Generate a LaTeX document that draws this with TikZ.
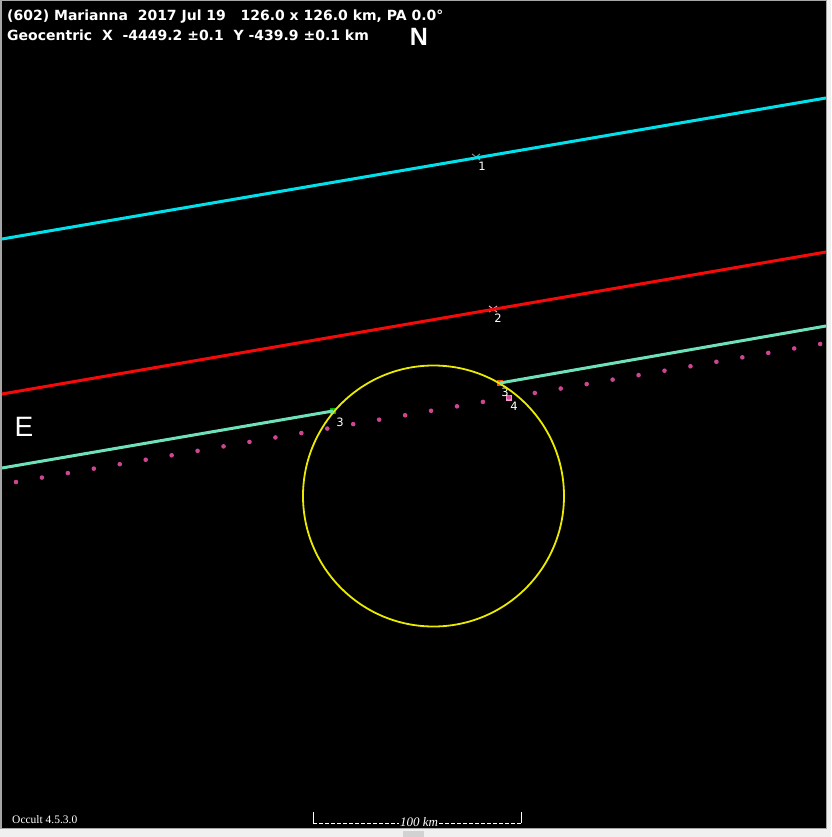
\documentclass[tikz,border=0pt]{standalone}
\usepackage{fontspec}
\setmainfont{Liberation Sans}
\newfontfamily\versionfont{Liberation Serif}
\newfontfamily\headfont{DejaVu Sans}
\usetikzlibrary{shapes.misc}
\definecolor{chordcyan}{RGB}{0,225,235}
\definecolor{chordred}{RGB}{245,10,10}
\definecolor{chordaqua}{RGB}{110,225,185}
\definecolor{limbyellow}{RGB}{235,235,0}
\definecolor{pathpink}{RGB}{205,70,145}
\definecolor{framegray}{RGB}{240,240,240}
\begin{document}
\begin{tikzpicture}[
            x = 1pt, y = -1pt,
            chord/.style = {
                draw,
                line width = 3pt},
            event/.style = {
                rectangle,
                inner sep = 0pt,
                minimum size = 5.5pt},
            tick/.style = {
                cross out,
                draw,
                line width = 1pt,
                inner sep = 0pt,
                minimum width = 7pt,
                minimum height = 5pt},
            evlabel/.style = {
                text = white,
                inner sep = 0pt,
                font = \headfont\fontsize{11.5}{12}\selectfont},
            header/.style = {
                text = white,
                anchor = base west,
                inner sep = 0pt,
                font = \headfont\bfseries\fontsize{14}{16}\selectfont}]
        % Frame
        \useasboundingbox (0,0) rectangle (831,837);
        \fill [framegray] (0,0) rectangle (831,837);
        \filldraw [fill=black, draw=gray!70, line width=1.5] (0.75,0.75) rectangle (826.5,828.5);
        \fill [gray!35] (403,831) rectangle (424,837);

        % Chord ends
        \coordinate (c1w) at (2,239);
        \coordinate (c1e) at (826,98);
        \coordinate (c2w) at (2,394);
        \coordinate (c2e) at (826,252);
        \coordinate (c3w) at (2,468);
        \coordinate (c3e) at (826,326);

        % Place nodes
        \node [header] (title) at (7,21) {(602) Marianna~~2017 Jul 19~~~126.0 x 126.0 km, PA 0.0°};
        \node [header] (geo) at (7,41) {Geocentric~~X~~-4449.2 ±0.1~~Y -439.9 ±0.1 km};
        \node [text=white, font=\bfseries\fontsize{25}{25}\selectfont, inner sep=0pt] (north) at (419,37) {N};
        \node [text=white, font=\fontsize{28}{28}\selectfont, inner sep=0pt] (east) at (24,427) {E};
        \node [text=white, font=\versionfont\fontsize{11.5}{11.5}\selectfont, anchor=base west, inner sep=0pt] (version) at (12,823) {Occult 4.5.3.0};

        \node [tick, draw=gray!90] (m1) at (476,157) {};
        \node [tick, draw=pink!80!gray] (m2) at (493,309) {};
        \node [event, fill=green!70!black] (m3a) at (333,411) {};
        \node [event, fill=orange!60!red] (m3b) at (500,383) {};
        \node [event, fill=pink!80!magenta] (m4) at (509,398) {};

        \node [evlabel] (l1) at (482,166) {1};
        \node [evlabel] (l2) at (498,318) {2};
        \node [evlabel] (l3a) at (340,422) {3};
        \node [evlabel] (l3b) at (505,392) {3};
        \node [evlabel] (l4) at (514,406) {4};

        % Asteroid limb and path
        \draw [limbyellow, line width=1.8] (433.5,496) circle (130.5);
        \foreach \i in {0,...,31}
            \fill [pathpink] (16+\i*25.94, 482-\i*4.452) circle (2.3);

        % Draw edges
        \path [chord, chordcyan] (c1w) -- (c1e);
        \path [chord, chordred] (c2w) -- (c2e);
        \path [chord, chordaqua] (c3w) -- (m3a.center);
        \path [chord, chordaqua] (m3b.center) -- (c3e);

        % Scale bar
        \coordinate (sbw) at (313,823);
        \coordinate (sbe) at (521,823);
        \draw [white, line width=1, dash pattern=on 4 off 2] (sbw) -- (sbe);
        \draw [white, line width=1] (sbw) -- ++(0,-11);
        \draw [white, line width=1] (sbe) -- ++(0,-11);
        \node [fill=black, text=white, inner sep=1pt, anchor=base,
            font=\versionfont\itshape\fontsize{13}{13}\selectfont] (scale) at (419,826) {100 km};
    \end{tikzpicture}
\end{document}
